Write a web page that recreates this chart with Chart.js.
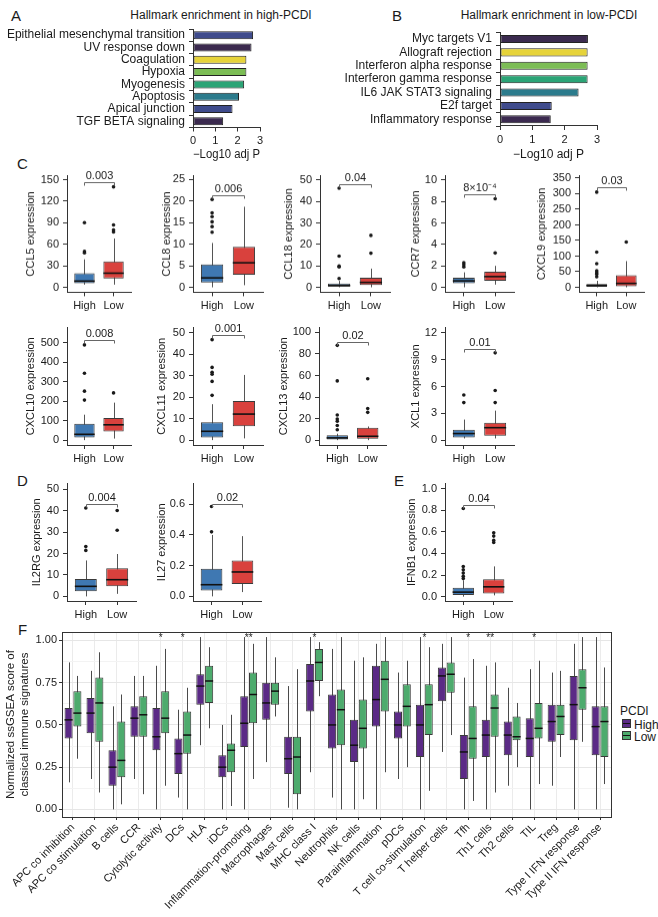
<!DOCTYPE html>
<html>
<head>
<meta charset="utf-8">
<script src="https://cdn.jsdelivr.net/npm/chart.js@4.4.1/dist/chart.umd.min.js"></script>
<style>
  body { margin: 0; background: #fff; width: 658px; height: 917px; position: relative; overflow: hidden;
         font-family: "Liberation Sans", Arial, sans-serif; color: #1a1a1a; }
  .box { position: absolute; }
  .letter { position: absolute; font-size: 15px; line-height: 1; }
  .ttl { position: absolute; font-size: 12px; line-height: 1; white-space: nowrap; }
  .sw { position: absolute; width: 7px; height: 7px; border: 1px solid #333; }
  .sw i { position: absolute; left: 0; right: 0; top: 3px; height: 1px; background: #111; }
</style>
</head>
<body>
<div class="letter" style="left:11px;top:8px">A</div>
<div class="letter" style="left:392px;top:8px">B</div>
<div class="letter" style="left:17px;top:156px">C</div>
<div class="letter" style="left:17px;top:473px">D</div>
<div class="letter" style="left:394px;top:473px">E</div>
<div class="letter" style="left:18px;top:622px">F</div>
<div class="ttl" style="left:221px;top:8.5px;transform:translateX(-50%)">Hallmark enrichment in high-PCDI</div>
<div class="ttl" style="left:549px;top:8.5px;transform:translateX(-50%)">Hallmark enrichment in low-PCDI</div>

<div class="ttl" style="left:620px;top:705px">PCDI</div>
<div class="sw" style="left:622px;top:719px;background:#5b2a86"><i></i></div>
<div class="ttl" style="left:634px;top:719px">High</div>
<div class="sw" style="left:622px;top:731px;background:#4dab6d"><i></i></div>
<div class="ttl" style="left:634px;top:731px">Low</div>

<script>
// ---------- data ----------
const groups = ['High', 'Low'];

const highTerms = ['Epithelial mesenchymal transition', 'UV response down', 'Coagulation', 'Hypoxia',
  'Myogenesis', 'Apoptosis', 'Apical junction', 'TGF BETA signaling'];
const highLogP = [2.69, 2.62, 2.39, 2.39, 2.29, 2.06, 1.77, 1.35];
const lowTerms = ['Myc targets V1', 'Allograft rejection', 'Interferon alpha response',
  'Interferon gamma response', 'IL6 JAK STAT3 signaling', 'E2f target', 'Inflammatory response'];
const lowLogP = [2.72, 2.71, 2.71, 2.71, 2.43, 1.60, 1.57];
const logPTicks = [0, 1, 2, 3];

// box stats per group: [lower whisker, q1, median, q3, upper whisker]
const ccl5Stats = [[3.7, 5.5, 8.7, 19.6, 39], [3.7, 12.3, 19.7, 36, 68]];
const ccl5Out = [[90, 50, 48], [140, 87, 80, 77]];
const ccl8Stats = [[0, 1.1, 2.2, 5.3, 10.3], [0.5, 2.9, 5.7, 9.4, 18.7]];
const ccl8Out = [[20.4, 17.3, 16.4, 15.2, 14.1, 12.8], []];
const ccl18Stats = [[0, 0.3, 0.8, 1.8, 3.0], [0, 1.1, 2.3, 4.4, 8.7]];
const ccl18Out = [[4.1, 9.5, 9.9, 14.5, 46.2], [15.9, 24.2]];
const ccr7Stats = [[0, 0.37, 0.6, 0.9, 1.4], [0.25, 0.6, 1.0, 1.45, 2.0]];
const ccr7Out = [[1.9, 2.1, 2.3], [3.2, 8.25]];
const cxcl9Stats = [[0, 2, 6, 10.5, 21], [0, 3, 12.6, 39, 84]];
const cxcl9Out = [[34, 42, 47, 53, 76, 113, 305], [145]];
const cxcl10Stats = [[0, 13, 30, 84, 131], [8, 45, 79, 114, 193]];
const cxcl10Out = [[206, 252, 344, 490], [243]];
const cxcl11Stats = [[0, 1.2, 4.1, 8.3, 16.7], [0.8, 6.4, 12.1, 18.2, 30.3]];
const cxcl11Out = [[20.8, 27.3, 30.6, 31.5, 33.8, 46.7], []];
const cxcl13Stats = [[0, 0.6, 2.1, 4.5, 6], [0, 1.2, 3.6, 11.5, 12.7]];
const cxcl13Out = [[9.7, 13.6, 17.6, 19.7, 23.3, 55, 88], [25.8, 29.4, 57]];
const xcl1Stats = [[0.18, 0.3, 0.73, 1.17, 2.3], [0.18, 0.48, 1.39, 1.94, 3.3]];
const xcl1Out = [[4.2, 5.05], [4.2, 5.56, 9.77]];
const il2rgStats = [[0, 2.4, 4.7, 8.1, 16.8], [1.2, 4.7, 7.8, 13.1, 19.8]];
const il2rgOut = [[21.5, 23.3, 41.3], [30.9, 40.1]];
const il27Stats = [[0, 0.038, 0.076, 0.18, 0.40], [0.028, 0.08, 0.159, 0.233, 0.392]];
const il27Out = [[0.42, 0.585], []];
const ifnb1Stats = [[0, 0.015, 0.042, 0.082, 0.15], [0.012, 0.03, 0.091, 0.16, 0.28]];
const ifnb1Out = [[0.167, 0.188, 0.218, 0.248, 0.279, 0.815], [0.50, 0.52, 0.56, 0.59]];

const ccl5Ticks = ['0', '30', '60', '90', '120', '150'];
const ccl8Ticks = ['0', '5', '10', '15', '20', '25'];
const ccl18Ticks = ['0', '10', '20', '30', '40', '50'];
const ccr7Ticks = ['0', '2', '4', '6', '8', '10'];
const cxcl9Ticks = ['0', '50', '100', '150', '200', '250', '300', '350'];
const cxcl10Ticks = ['0', '100', '200', '300', '400', '500'];
const cxcl11Ticks = ['0', '10', '20', '30', '40', '50'];
const cxcl13Ticks = ['0', '20', '40', '60', '80', '100'];
const xcl1Ticks = ['0', '3', '6', '9', '12'];
const il2rgTicks = ['0', '10', '20', '30', '40', '50'];
const il27Ticks = ['0.0', '0.2', '0.4', '0.6'];
const ifnb1Ticks = ['0.0', '0.2', '0.4', '0.6', '0.8', '1.0'];

const pValues = {CCL5: '0.003', CCL8: '0.006', CCL18: '0.04', CCR7: '8×10⁻⁴', CXCL9: '0.03',
  CXCL10: '0.008', CXCL11: '0.001', CXCL13: '0.02', XCL1: '0.01', IL2RG: '0.004', IL27: '0.02', IFNB1: '0.04'};

const signatures = ['APC co inhibition', 'APC co stimulation', 'B cells', 'CCR', 'Cytolytic activity', 'DCs',
  'HLA', 'iDCs', 'Inflammation-promoting', 'Macrophages', 'Mast cells', 'MHC class I', 'Neutrophils',
  'NK cells', 'Parainflammation', 'pDCs', 'T cell co-stimulation', 'T helper cells', 'Tfh', 'Th1 cells',
  'Th2 cells', 'TIL', 'Treg', 'Type I IFN response', 'Type II IFN response'];
const sigHigh = [
  [0.16, 0.42, 0.53, 0.60, 0.87], [0.18, 0.45, 0.57, 0.66, 0.82], [0.00, 0.14, 0.25, 0.35, 0.61],
  [0.18, 0.43, 0.54, 0.61, 0.79], [0.00, 0.35, 0.43, 0.60, 0.85], [0.07, 0.21, 0.33, 0.42, 0.59],
  [0.38, 0.62, 0.73, 0.80, 1.02], [0.00, 0.19, 0.25, 0.32, 0.50], [0.00, 0.37, 0.51, 0.67, 1.02],
  [0.28, 0.53, 0.63, 0.75, 1.02], [0.01, 0.21, 0.30, 0.43, 0.73], [0.22, 0.58, 0.76, 0.86, 1.02],
  [0.07, 0.36, 0.50, 0.68, 0.95], [0.00, 0.28, 0.38, 0.53, 0.88], [0.00, 0.49, 0.65, 0.85, 0.98],
  [0.18, 0.42, 0.50, 0.58, 0.81], [0.00, 0.31, 0.50, 0.62, 1.02], [0.34, 0.64, 0.79, 0.84, 0.98],
  [0.00, 0.18, 0.34, 0.44, 0.78], [0.00, 0.31, 0.44, 0.53, 0.85], [0.14, 0.32, 0.44, 0.52, 0.72],
  [0.00, 0.31, 0.42, 0.54, 0.83], [0.14, 0.40, 0.52, 0.62, 0.81], [0.00, 0.41, 0.62, 0.79, 0.98],
  [0.00, 0.32, 0.49, 0.61, 1.02]];
const sigLow = [
  [0.30, 0.49, 0.57, 0.70, 0.79], [0.10, 0.40, 0.63, 0.78, 0.93], [0.03, 0.19, 0.29, 0.52, 0.68],
  [0.09, 0.43, 0.56, 0.67, 0.79], [0.14, 0.45, 0.54, 0.70, 0.95], [0.00, 0.33, 0.44, 0.58, 0.72],
  [0.48, 0.63, 0.76, 0.85, 0.96], [0.02, 0.22, 0.35, 0.39, 0.56], [0.18, 0.51, 0.68, 0.81, 0.98],
  [0.55, 0.62, 0.70, 0.75, 0.90], [0.00, 0.09, 0.31, 0.43, 0.83], [0.67, 0.76, 0.87, 0.95, 0.99],
  [0.00, 0.38, 0.59, 0.71, 1.02], [0.06, 0.36, 0.48, 0.65, 0.90], [0.22, 0.58, 0.77, 0.88, 1.02],
  [0.25, 0.49, 0.61, 0.74, 0.88], [0.11, 0.44, 0.62, 0.74, 0.96], [0.44, 0.69, 0.80, 0.87, 1.02],
  [0.05, 0.30, 0.42, 0.61, 0.89], [0.10, 0.43, 0.60, 0.68, 0.87], [0.25, 0.41, 0.43, 0.55, 0.63],
  [0.15, 0.42, 0.48, 0.63, 0.88], [0.31, 0.44, 0.55, 0.62, 0.82], [0.40, 0.59, 0.72, 0.83, 1.02],
  [0.15, 0.31, 0.52, 0.61, 0.84]];
const sigStars = ['', '', '', '', '*', '*', '', '', '**', '', '', '*', '', '', '', '', '*', '', '*', '**',
  '', '*', '', '', ''];
const sigTickLabels = ['0.00', '0.25', '0.50', '0.75', '1.00'];
const sigMinorGrid = [0.125, 0.375, 0.625, 0.875];

// ---------- styles ----------
Chart.defaults.font.family = '"Liberation Sans", Arial, sans-serif';
Chart.defaults.color = '#1a1a1a';
const INK = '#333';
const boxColors = ['#3f78b2', '#d9413d'];
const sigColors = ['#5b2a86', '#4dab6d'];
const vDark = '#3b2a4f', vBlue = '#3f4b8c', vTeal = '#2b7b8c', vSea = '#2ba476', vGreen = '#7cbd55', vYellow = '#e6d33a';
const highColors = [vBlue, vDark, vYellow, vGreen, vSea, vTeal, vBlue, vDark];
const lowColors = [vDark, vYellow, vGreen, vSea, vTeal, vBlue, vDark];

function makeBox(left, top, width, height) {
  const div = document.createElement('div');
  div.className = 'box';
  Object.assign(div.style, {left: left + 'px', top: top + 'px', width: width + 'px', height: height + 'px'});
  const cv = document.createElement('canvas');
  div.appendChild(cv);
  document.body.appendChild(div);
  return cv;
}

// ---------- A / B hallmark bars ----------
function hallmarkChart(terms, vals, colors, pos) {
  const left = pos.left;
  const cv = makeBox(left, 0, pos.right - left + 8, pos.bottom + pos.xH);
  new Chart(cv, {
    type: 'bar',
    data: {labels: terms, datasets: [{data: vals, backgroundColor: colors, borderColor: '#222',
      borderWidth: 1, borderSkipped: false, barPercentage: pos.bp, categoryPercentage: 1}]},
    options: {
      indexAxis: 'y', responsive: true, maintainAspectRatio: false, animation: false,
      layout: {padding: {top: pos.top, right: 8, left: 0, bottom: 0}},
      plugins: {legend: {display: false}, tooltip: {enabled: false}},
      scales: {
        x: {type: 'linear', min: 0, max: 3,
          afterBuildTicks: s => { s.ticks = logPTicks.map(v => ({value: v})); },
          ticks: {font: {size: 11}, padding: 3, color: '#1a1a1a'},
          grid: {drawOnChartArea: false, tickLength: 4, tickColor: INK},
          border: {color: INK},
          title: {display: true, text: '−Log10 adj P', font: {size: 12}, padding: {top: 2, bottom: 4}},
          afterFit: s => { s.height = pos.xH; }},
        y: {ticks: {autoSkip: false, font: {size: 12}, padding: 4, color: '#1a1a1a'},
          grid: {drawOnChartArea: false, tickLength: 4, tickColor: INK},
          border: {color: INK},
          afterFit: s => { s.width = pos.axisX - left; }}
      }
    }
  });
}
hallmarkChart(highTerms, highLogP, highColors, {left: 0, axisX: 193, right: 260, top: 29, bottom: 127.5, xH: 38.7, bp: 0.65});
hallmarkChart(lowTerms, lowLogP, lowColors, {left: 340, axisX: 500, right: 597, top: 32.3, bottom: 126, xH: 40.2, bp: 0.6});

// ---------- C / D / E small boxplots ----------
function boxChart(name, stats, outliers, tickLabels, yr, bracket, pos) {
  const left = pos.titleX - 12, top = pos.top - 8;
  const cv = makeBox(left, top, pos.right - left + 4, pos.bottom - top + 24);
  const deco = {
    id: 'deco',
    beforeDatasetsDraw(chart) {
      const {ctx} = chart, y = chart.scales.y, meta = chart.getDatasetMeta(0);
      ctx.save(); ctx.strokeStyle = '#555'; ctx.lineWidth = 1;
      stats.forEach((s, i) => {
        const x = Math.round(meta.data[i].x) + 0.5;
        ctx.beginPath(); ctx.moveTo(x, y.getPixelForValue(s[0])); ctx.lineTo(x, y.getPixelForValue(s[4])); ctx.stroke();
      });
      ctx.restore();
    },
    afterDatasetsDraw(chart) {
      const {ctx} = chart, y = chart.scales.y, meta = chart.getDatasetMeta(0);
      ctx.save(); ctx.strokeStyle = '#111'; ctx.lineWidth = 1.6;
      stats.forEach((s, i) => {
        const b = meta.data[i], yy = y.getPixelForValue(s[2]);
        ctx.beginPath(); ctx.moveTo(b.x - b.width / 2, yy); ctx.lineTo(b.x + b.width / 2, yy); ctx.stroke();
      });
      ctx.restore();
    },
    afterDraw(chart) {
      const {ctx} = chart, x = chart.scales.x, y = chart.scales.y;
      const x1 = Math.round(x.getPixelForValue(1)) + 0.5, x2 = Math.round(x.getPixelForValue(2)) + 0.5;
      const yb = Math.round(y.getPixelForValue(bracket)) + 0.5;
      ctx.save(); ctx.strokeStyle = '#666'; ctx.lineWidth = 1;
      ctx.beginPath(); ctx.moveTo(x1, yb + 3); ctx.lineTo(x1, yb); ctx.lineTo(x2, yb); ctx.lineTo(x2, yb + 3); ctx.stroke();
      ctx.fillStyle = '#1a1a1a'; ctx.font = '11px "Liberation Sans", Arial, sans-serif';
      ctx.textAlign = 'center'; ctx.textBaseline = 'bottom';
      ctx.fillText(pValues[name], (x1 + x2) / 2, yb - 1);
      ctx.restore();
    }
  };
  new Chart(cv, {
    type: 'bar',
    data: {datasets: [
      {data: stats.map((s, i) => ({x: i + 1, y: [s[1], s[3]]})), backgroundColor: boxColors,
        borderColor: '#3a3a3a', borderWidth: 1, borderSkipped: false, barPercentage: 0.7, categoryPercentage: 1, order: 1},
      {type: 'scatter', data: outliers.flatMap((o, i) => o.map(v => ({x: i + 1, y: v}))),
        pointRadius: 1.8, backgroundColor: '#1a1a1a', borderWidth: 0, order: 0}
    ]},
    options: {
      responsive: true, maintainAspectRatio: false, animation: false,
      layout: {padding: {top: 8, right: 4, left: 0, bottom: 0}},
      plugins: {legend: {display: false}, tooltip: {enabled: false}},
      scales: {
        x: {type: 'linear', min: 0.4, max: 2.6, offset: false,
          afterBuildTicks: s => { s.ticks = [{value: 1}, {value: 2}]; },
          ticks: {callback: v => groups[v - 1], font: {size: 11}, padding: 3, color: '#1a1a1a'},
          grid: {drawOnChartArea: false, tickLength: 4, tickColor: INK, offset: false},
          border: {color: INK},
          afterFit: s => { s.height = 24; }},
        y: {min: yr[0], max: yr[1],
          afterBuildTicks: s => { s.ticks = tickLabels.map(t => ({value: parseFloat(t)})); },
          ticks: {callback: (v, i) => tickLabels[i], font: {size: 11}, padding: 4, color: '#1a1a1a'},
          grid: {drawOnChartArea: false, tickLength: 4, tickColor: INK},
          border: {color: INK},
          title: {display: true, text: name + ' expression', font: {size: 11}, padding: {top: 4, bottom: 2}},
          afterFit: s => { s.width = pos.axisX - left; }}
      }
    },
    plugins: [deco]
  });
}

const r1 = {top: 173.3, bottom: 291.7}, r2 = {top: 325, bottom: 445}, r3 = {top: 480.7, bottom: 600.7};
boxChart('CCL5', ccl5Stats, ccl5Out, ccl5Ticks, [-6.9, 155.5], 146, {...r1, axisX: 67, right: 131, titleX: 32});
boxChart('CCL8', ccl8Stats, ccl8Out, ccl8Ticks, [-1.14, 25.9], 21.3, {...r1, axisX: 193, right: 263, titleX: 168});
boxChart('CCL18', ccl18Stats, ccl18Out, ccl18Ticks, [-2.3, 52], 48.2, {...r1, axisX: 320, right: 390, titleX: 290});
boxChart('CCR7', ccr7Stats, ccr7Out, ccr7Ticks, [-0.46, 10.4], 8.7, {...r1, axisX: 445, right: 514, titleX: 417});
boxChart('CXCL9', cxcl9Stats, cxcl9Out, cxcl9Ticks, [-15.8, 357.6], 320, {...r1, axisX: 579, right: 644, titleX: 543});
boxChart('CXCL10', cxcl10Stats, cxcl10Out, cxcl10Ticks, [-25, 579], 515, {...r2, axisX: 67, right: 131, titleX: 32});
boxChart('CXCL11', cxcl11Stats, cxcl11Out, cxcl11Ticks, [-2.27, 52.3], 48.8, {...r2, axisX: 193, right: 263, titleX: 163});
boxChart('CXCL13', cxcl13Stats, cxcl13Out, cxcl13Ticks, [-4.5, 104.5], 91.5, {...r2, axisX: 319, right: 386, titleX: 285});
boxChart('XCL1', xcl1Stats, xcl1Out, xcl1Ticks, [-0.55, 12.6], 10.2, {...r2, axisX: 445, right: 514, titleX: 417});
boxChart('IL2RG', il2rgStats, il2rgOut, il2rgTicks, [-2.15, 52.7], 43.1, {...r3, axisX: 67, right: 136, titleX: 38});
boxChart('IL27', il27Stats, il27Out, il27Ticks, [-0.03, 0.734], 0.60, {...r3, axisX: 193, right: 261, titleX: 163});
boxChart('IFNB1', ifnb1Stats, ifnb1Out, ifnb1Ticks, [-0.04, 1.045], 0.85, {...r3, axisX: 445, right: 512, titleX: 413});

// ---------- F signature boxplots ----------
(function () {
  const cv = makeBox(0, 620, 658, 297);
  const sets = [sigHigh, sigLow];
  const isMajor = v => sigTickLabels.some(t => Math.abs(parseFloat(t) - v) < 1e-6);
  const deco = {
    id: 'sigdeco',
    beforeDatasetsDraw(chart) {
      const {ctx} = chart, y = chart.scales.y;
      ctx.save(); ctx.strokeStyle = '#4a4a4a'; ctx.lineWidth = 1;
      sets.forEach((set, d) => {
        const meta = chart.getDatasetMeta(d);
        set.forEach((s, i) => {
          const x = Math.round(meta.data[i].x) + 0.5;
          ctx.beginPath(); ctx.moveTo(x, y.getPixelForValue(s[0])); ctx.lineTo(x, y.getPixelForValue(s[4])); ctx.stroke();
        });
      });
      ctx.restore();
    },
    afterDatasetsDraw(chart) {
      const {ctx} = chart, y = chart.scales.y;
      ctx.save(); ctx.strokeStyle = '#111'; ctx.lineWidth = 1.5;
      sets.forEach((set, d) => {
        const meta = chart.getDatasetMeta(d);
        set.forEach((s, i) => {
          const b = meta.data[i], yy = y.getPixelForValue(s[2]);
          ctx.beginPath(); ctx.moveTo(b.x - b.width / 2, yy); ctx.lineTo(b.x + b.width / 2, yy); ctx.stroke();
        });
      });
      ctx.restore();
    },
    afterDraw(chart) {
      const {ctx, chartArea: a} = chart, x = chart.scales.x, y = chart.scales.y;
      ctx.save();
      ctx.strokeStyle = INK; ctx.lineWidth = 1;
      ctx.strokeRect(Math.round(a.left) + 0.5, Math.round(a.top) + 0.5, Math.round(a.right - a.left), Math.round(a.bottom - a.top));
      ctx.fillStyle = '#1a1a1a'; ctx.font = '10px "Liberation Sans", Arial, sans-serif';
      ctx.textAlign = 'center'; ctx.textBaseline = 'top';
      sigStars.forEach((s, i) => { if (s) ctx.fillText(s, x.getPixelForValue(i), y.getPixelForValue(1.05) + 1); });
      ctx.restore();
    }
  };
  new Chart(cv, {
    type: 'bar',
    data: {labels: signatures, datasets: sets.map((set, d) => ({
      label: groups[d], data: set.map(s => [s[1], s[3]]), backgroundColor: sigColors[d],
      borderColor: '#3a3a3a', borderWidth: 1, borderSkipped: false, barPercentage: 0.92, categoryPercentage: 0.8}))},
    options: {
      responsive: true, maintainAspectRatio: false, animation: false,
      layout: {padding: {top: 12, right: 47, left: 0, bottom: 0}},
      plugins: {legend: {display: false}, tooltip: {enabled: false}},
      scales: {
        x: {offset: true,
          ticks: {autoSkip: false, minRotation: 45, maxRotation: 45, font: {size: 11}, padding: 1, color: '#1a1a1a'},
          grid: {offset: false, color: '#ebebeb', tickLength: 3, tickColor: INK},
          border: {color: INK},
          afterFit: s => { s.height = 100; }},
        y: {min: -0.045, max: 1.05,
          afterBuildTicks: s => {
            s.ticks = sigTickLabels.map(t => parseFloat(t)).concat(sigMinorGrid).sort((p, q) => p - q).map(v => ({value: v}));
          },
          ticks: {callback: v => isMajor(v) ? sigTickLabels.find(t => Math.abs(parseFloat(t) - v) < 1e-6) : '',
            font: {size: 11}, padding: 2, color: '#1a1a1a'},
          grid: {color: c => isMajor(c.tick.value) ? '#e6e6e6' : '#f3f3f3',
            tickColor: c => isMajor(c.tick.value) ? INK : 'rgba(0,0,0,0)', tickLength: 3},
          border: {color: INK},
          title: {display: true, text: ['Normalized ssGSEA score of', 'classical immune signatures'],
            font: {size: 11.5}, padding: {top: 4, bottom: 2}},
          afterFit: s => { s.width = 62; }}
      }
    },
    plugins: [deco]
  });
})();
</script>
</body>
</html>
